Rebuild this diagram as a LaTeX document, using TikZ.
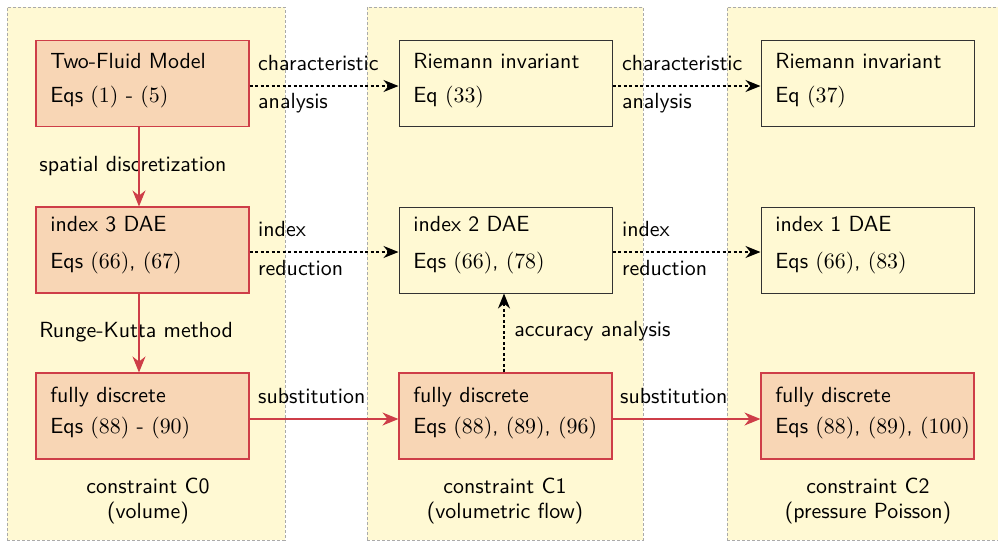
\documentclass[tikz,border=0pt]{standalone}
\usetikzlibrary{arrows.meta}
\definecolor{panelfill}{RGB}{255,249,211}
\definecolor{peach}{RGB}{248,214,181}
\definecolor{redline}{RGB}{206,62,72}
\definecolor{panelline}{RGB}{170,170,170}
\newcommand{\diagfont}{\fontsize{10.95}{13}\selectfont\sffamily}
\begin{document}
\begin{tikzpicture}[x=0.5pt,y=-0.5pt,
  panel/.style={fill=panelfill, draw=panelline, line width=0.5pt, dash pattern=on 1.5pt off 1pt, minimum width=139pt, minimum height=266.5pt, inner sep=0pt},
  redbox/.style={draw=redline, fill=peach, line width=0.55pt, minimum width=106.5pt, minimum height=43pt, inner sep=0pt},
  plainbox/.style={draw=black!80, line width=0.5pt, minimum width=106.5pt, minimum height=43pt, inner sep=0pt},
  txt/.style={anchor=base west, inner sep=0pt, font=\diagfont},
  ctxt/.style={anchor=base, inner sep=0pt, font=\diagfont},
  redarrow/.style={draw=redline, line width=0.6pt, -{Stealth[length=8pt,width=6.5pt]}},
  dotarrow/.style={draw=black, line width=0.6pt, dash pattern=on 1.5pt off 1.25pt, -{Stealth[length=7.5pt,width=6pt]}},
]
\useasboundingbox (0,0) rectangle (998,543);

% panels
\node[panel] (P1) at (146,273.5) {};
\node[panel, minimum width=138pt] (P2) at (505,273.5) {};
\node[panel] (P3) at (866,273.5) {};

% boxes
\node[redbox] (TF) at (142.5,83.5) {};
\node[redbox] (D3) at (142.5,250) {};
\node[redbox] (FD0) at (142.5,416) {};
\node[plainbox] (RI1) at (505.5,83.5) {};
\node[plainbox] (D2) at (505.5,250) {};
\node[redbox] (FD1) at (505.5,416) {};
\node[plainbox] (RI2) at (867.5,83.5) {};
\node[plainbox] (D1) at (867.5,250) {};
\node[redbox] (FD2) at (867.5,416) {};

% box texts
\node[txt] (TFa) at (50,68) {Two-Fluid Model};
\node[txt] (TFb) at (50,102) {Eqs $(1)$ - $(5)$};
\node[txt] (D3a) at (50,231) {index 3 DAE};
\node[txt] (D3b) at (50,268) {Eqs $(66)$, $(67)$};
\node[txt] (FD0a) at (50,402) {fully discrete};
\node[txt] (FD0b) at (50,433.5) {Eqs $(88)$ - $(90)$};
\node[txt] (RI1a) at (413,68) {Riemann invariant};
\node[txt] (RI1b) at (413,102) {Eq $(33)$};
\node[txt] (D2a) at (413,231) {index 2 DAE};
\node[txt] (D2b) at (413,268) {Eqs $(66)$, $(78)$};
\node[txt] (FD1a) at (413,402) {fully discrete};
\node[txt] (FD1b) at (413,433.5) {Eqs $(88)$, $(89)$, $(96)$};
\node[txt] (RI2a) at (775,68) {Riemann invariant};
\node[txt] (RI2b) at (775,102) {Eq $(37)$};
\node[txt] (D1a) at (775,231) {index 1 DAE};
\node[txt] (D1b) at (775,268) {Eqs $(66)$, $(83)$};
\node[txt] (FD2a) at (775,402) {fully discrete};
\node[txt] (FD2b) at (775,433.5) {Eqs $(88)$, $(89)$, $(100)$};

% vertical labels
\node[txt] (Lsd) at (39,171.5) {spatial discretization};
\node[txt] (Lrk) at (39,337) {Runge-Kutta method};
\node[txt] (Lacc) at (514,336) {accuracy analysis};

% horizontal connectors
\draw[dotarrow] ([yshift=-1.25pt]TF.east) -- ([yshift=-1.25pt]RI1.west)
  node[at start, txt, xshift=4pt, yshift=8pt] (Lca1) {characteristic}
  node[at start, txt, xshift=4pt, yshift=-11pt] (Lcb1) {analysis};
\draw[dotarrow] ([yshift=-1.25pt]RI1.east) -- ([yshift=-1.25pt]RI2.west)
  node[at start, txt, xshift=4.5pt, yshift=8pt] (Lca2) {characteristic}
  node[at start, txt, xshift=4.5pt, yshift=-11pt] (Lcb2) {analysis};
\draw[dotarrow] ([yshift=-1pt]D3.east) -- ([yshift=-1pt]D2.west)
  node[at start, txt, xshift=4pt, yshift=7.6pt] (Lia1) {index}
  node[at start, txt, xshift=4pt, yshift=-11.5pt] (Lib1) {reduction};
\draw[dotarrow] ([yshift=-1pt]D2.east) -- ([yshift=-1pt]D1.west)
  node[at start, txt, xshift=4.5pt, yshift=7.6pt] (Lia2) {index}
  node[at start, txt, xshift=4.5pt, yshift=-11.5pt] (Lib2) {reduction};
\draw[redarrow] ([yshift=-1.5pt]FD0.east) -- ([yshift=-1.5pt]FD1.west)
  node[at start, txt, xshift=4pt, yshift=8pt] (Ls1) {substitution};
\draw[redarrow] ([yshift=-1.5pt]FD1.east) -- ([yshift=-1.5pt]FD2.west)
  node[at start, txt, xshift=3.5pt, yshift=8pt] (Ls2) {substitution};

% vertical connectors
\draw[redarrow] ([xshift=-1.75pt]TF.south) -- ([xshift=-1.75pt]D3.north);
\draw[redarrow] ([xshift=-1.75pt]D3.south) -- ([xshift=-1.75pt]FD0.north);
\draw[dotarrow] ([xshift=-0.75pt]FD1.north) -- ([xshift=-0.75pt]D2.south);

% constraint captions
\node[ctxt] (C0a) at (148,493) {constraint C0};
\node[ctxt] (C0b) at (148,518) {(volume)};
\node[ctxt] (C1a) at (505,493) {constraint C1};
\node[ctxt] (C1b) at (505,518) {(volumetric flow)};
\node[ctxt] (C2a) at (868,493) {constraint C2};
\node[ctxt] (C2b) at (868,518) {(pressure Poisson)};
\end{tikzpicture}
\end{document}
